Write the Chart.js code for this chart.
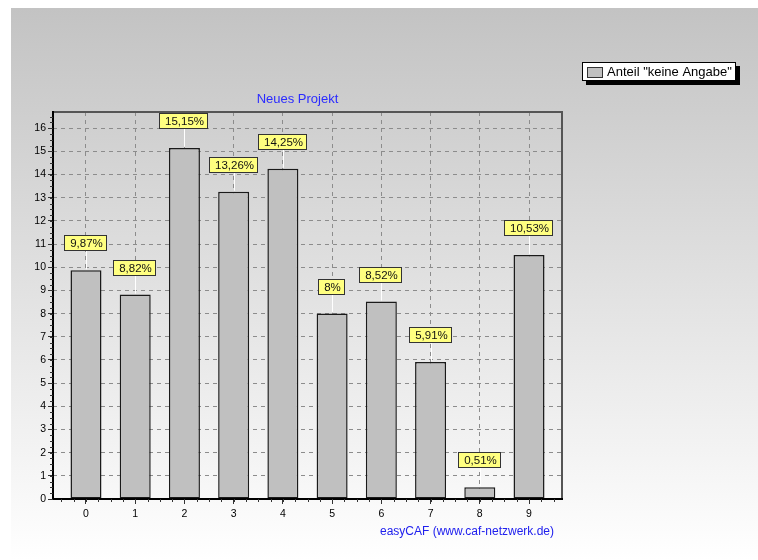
<!DOCTYPE html>
<html>
<head>
<meta charset="utf-8">
<script src="https://cdn.jsdelivr.net/npm/chart.js@4/dist/chart.umd.min.js"></script>
<style>
  html, body { margin: 0; padding: 0; background: #fff; }
  #wrap { width: 758px; height: 560px; position: relative; }
</style>
</head>
<body>
<div id="wrap"><canvas id="c" width="758" height="560"></canvas></div>
<script>
// Chart data
const categories = ['0', '1', '2', '3', '4', '5', '6', '7', '8', '9'];
const values = [9.87, 8.82, 15.15, 13.26, 14.25, 8, 8.52, 5.91, 0.51, 10.53];
const yTickValues = [0, 1, 2, 3, 4, 5, 6, 7, 8, 9, 10, 11, 12, 13, 14, 15, 16];
const seriesName = 'Anteil "keine Angabe"';
const chartTitle = 'Neues Projekt';
const footerText = 'easyCAF (www.caf-netzwerk.de)';

const FONT = "'Liberation Sans', Arial, sans-serif";

function formatPercent(v) {
  return String(v).replace('.', ',') + '%';
}

// Page background: grey-to-white vertical gradient with a thin white margin
const backgroundPlugin = {
  id: 'pageBackground',
  beforeDraw(chart) {
    const ctx = chart.ctx;
    ctx.save();
    ctx.fillStyle = '#ffffff';
    ctx.fillRect(0, 0, chart.width, chart.height);
    const g = ctx.createLinearGradient(0, 8, 0, chart.height);
    g.addColorStop(0, '#c3c3c3');
    g.addColorStop(1, '#ffffff');
    ctx.fillStyle = g;
    ctx.fillRect(11, 8, chart.width - 11, chart.height - 8);
    ctx.restore();
  }
};

// Frame, minor ticks, value boxes, title, footer and legend
const decorPlugin = {
  id: 'decor',
  afterDatasetsDraw(chart) {
    const ctx = chart.ctx;
    const a = chart.chartArea;
    const xs = chart.scales.x;
    const ys = chart.scales.y;
    ctx.save();

    // plot frame: grey top/right, black left/bottom axes
    ctx.lineWidth = 2;
    ctx.strokeStyle = '#555555';
    ctx.beginPath();
    ctx.moveTo(a.left, a.top);
    ctx.lineTo(a.right, a.top);
    ctx.lineTo(a.right, a.bottom);
    ctx.stroke();
    ctx.strokeStyle = '#000000';
    ctx.beginPath();
    ctx.moveTo(a.left, a.top - 1);
    ctx.lineTo(a.left, a.bottom);
    ctx.lineTo(a.right + 1, a.bottom);
    ctx.stroke();

    // minor ticks
    ctx.lineWidth = 1;
    ctx.strokeStyle = '#333333';
    ctx.beginPath();
    for (let v = ys.min; v <= ys.max; v += 0.25) {
      const y = Math.round(ys.getPixelForValue(v)) + 0.5;
      ctx.moveTo(a.left - 3, y);
      ctx.lineTo(a.left, y);
    }
    for (let v = -0.5; v <= xs.max; v += 0.25) {
      const x = Math.round(xs.getPixelForValue(v)) + 0.5;
      ctx.moveTo(x, a.bottom);
      ctx.lineTo(x, a.bottom + 3);
    }
    ctx.stroke();

    // value boxes above the bars
    const meta = chart.getDatasetMeta(0);
    ctx.font = '11.5px ' + FONT;
    ctx.textAlign = 'center';
    ctx.textBaseline = 'middle';
    meta.data.forEach((bar, i) => {
      const txt = formatPercent(values[i]);
      const w = Math.round(ctx.measureText(txt).width) + 10;
      const h = 16;
      const cx = Math.round(bar.x);
      const bottom = Math.round(bar.y) - 19;
      const left = cx - Math.round(w / 2);
      // connector
      ctx.strokeStyle = '#ffffff';
      ctx.lineWidth = 1;
      ctx.beginPath();
      ctx.moveTo(cx + 0.5, bottom);
      ctx.lineTo(cx + 0.5, bar.y - 1);
      ctx.stroke();
      // box
      ctx.fillStyle = '#ffff80';
      ctx.fillRect(left, bottom - h, w, h);
      ctx.strokeStyle = '#333333';
      ctx.strokeRect(left + 0.5, bottom - h + 0.5, w - 1, h - 1);
      ctx.fillStyle = '#111111';
      ctx.fillText(txt, cx + 0.5, bottom - h / 2 + 0.5);
    });

    ctx.restore();
  },
  afterDraw(chart) {
    const ctx = chart.ctx;
    const a = chart.chartArea;
    ctx.save();

    // title
    ctx.font = '13px ' + FONT;
    ctx.fillStyle = '#2b2bff';
    ctx.textAlign = 'center';
    ctx.textBaseline = 'middle';
    ctx.fillText(chartTitle, (a.left + a.right) / 2 - 10, 99);

    // footer
    ctx.font = '12px ' + FONT;
    ctx.fillStyle = '#2020ee';
    ctx.textAlign = 'right';
    ctx.fillText(footerText, a.right - 8, 532);

    // legend with drop shadow
    const lx = 582, ly = 62, lw = 154, lh = 19;
    ctx.fillStyle = '#000000';
    ctx.fillRect(lx + 4, ly + 4, lw, lh);
    ctx.fillStyle = '#ffffff';
    ctx.fillRect(lx, ly, lw, lh);
    ctx.strokeStyle = '#000000';
    ctx.lineWidth = 1;
    ctx.strokeRect(lx + 0.5, ly + 0.5, lw - 1, lh - 1);
    ctx.fillStyle = '#c0c0c0';
    ctx.fillRect(587, 67, 16, 10);
    ctx.strokeStyle = '#333333';
    ctx.strokeRect(587.5, 67.5, 15, 10);
    ctx.font = '13px ' + FONT;
    ctx.fillStyle = '#000000';
    ctx.textAlign = 'left';
    ctx.fillText(seriesName, 607, ly + lh / 2 + 0.5);

    ctx.restore();
  }
};

new Chart(document.getElementById('c'), {
  type: 'bar',
  data: {
    datasets: [{
      label: seriesName,
      data: categories.map((c, i) => ({ x: Number(c), y: values[i] })),
      backgroundColor: '#c0c0c0',
      borderColor: '#1a1a1a',
      borderWidth: 1.5,
      borderSkipped: false,
      barPercentage: 0.63,
      categoryPercentage: 1
    }]
  },
  options: {
    responsive: false,
    devicePixelRatio: 1,
    animation: false,
    layout: { padding: { left: 23, top: 112, right: 196, bottom: 41 } },
    plugins: {
      legend: { display: false },
      title: { display: false },
      tooltip: { enabled: false }
    },
    scales: {
      x: {
        type: 'linear',
        min: -0.67,
        max: 9.67,
        offset: false,
        afterBuildTicks(scale) {
          scale.ticks = categories.map(c => ({ value: Number(c) }));
        },
        afterFit(scale) { scale.height = 20; },
        ticks: {
          autoSkip: false,
          maxRotation: 0,
          padding: 4,
          color: '#000000',
          font: { family: FONT, size: 10.5 },
          callback: (v, i) => categories[i]
        },
        grid: {
          offset: false,
          color: '#8c8c8c',
          lineWidth: 1,
          drawTicks: true,
          tickLength: 5,
          tickColor: '#333333',
          tickBorderDash: []
        },
        border: { display: false, dash: [4, 4] }
      },
      y: {
        type: 'linear',
        min: 0,
        max: 16.7,
        afterBuildTicks(scale) {
          scale.ticks = yTickValues.map(v => ({ value: v }));
        },
        afterFit(scale) { scale.width = 30; },
        ticks: {
          autoSkip: false,
          padding: 2,
          color: '#000000',
          font: { family: FONT, size: 10.5 },
          callback: (v) => String(v)
        },
        grid: {
          color: '#8c8c8c',
          lineWidth: 1,
          drawTicks: true,
          tickLength: 5,
          tickColor: '#333333',
          tickBorderDash: []
        },
        border: { display: false, dash: [4, 4] }
      }
    }
  },
  plugins: [backgroundPlugin, decorPlugin]
});
</script>
</body>
</html>
